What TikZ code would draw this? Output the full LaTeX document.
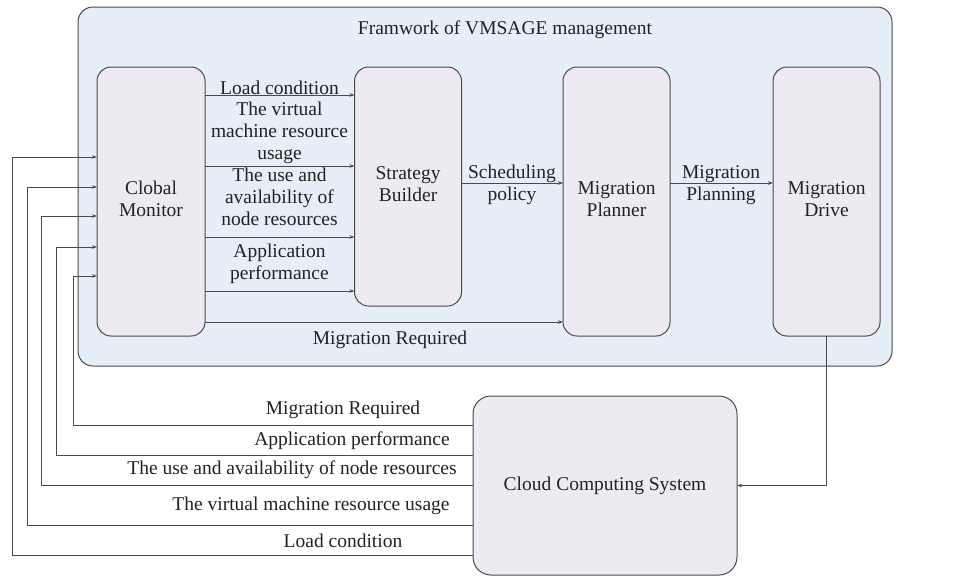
\documentclass[tikz,border=0pt]{standalone}
\usepackage{fontspec}
\setmainfont{Liberation Serif}[Ligatures=NoCommon]
\usetikzlibrary{arrows.meta}
\definecolor{linec}{HTML}{4A4A4A}
\definecolor{framefill}{HTML}{E6EEF7}
\definecolor{boxfill}{HTML}{EEEAF1}
\definecolor{textc}{HTML}{222222}
\newcommand{\mlines}[1]{\begin{tabular}{@{}c@{}}#1\end{tabular}}
\begin{document}
\begin{tikzpicture}[x=1pt,y=-1pt,
  framebox/.style={draw=linec, fill=framefill, rounded corners=15pt, line width=1pt, inner sep=0pt, outer sep=0pt},
  box/.style={draw=linec, fill=boxfill, rounded corners=14pt, line width=1pt, inner sep=0pt, outer sep=0pt, text=textc, font=\fontsize{19.5}{22}\selectfont},
  conn/.style={draw=linec, line width=0.8pt, -{Stealth[length=5pt,width=3.5pt]}},
  lbl/.style={font=\fontsize{19.5}{22}\selectfont, inner sep=0pt, text=textc},
]
\useasboundingbox (0,0) rectangle (976,576);
\node[framebox, minimum width=814pt, minimum height=359pt] (frame) at (485,186.5) {};
\node[lbl] (title) at (505,30) {Framwork of VMSAGE management};

\node[box, minimum width=108pt, minimum height=269pt] (GM) at (151,201.5) {\mlines{Clobal\\Monitor}};
\node[box, minimum width=107pt, minimum height=239pt] (SB) at (408,186.5) {\mlines{Strategy\\Builder}};
\node[box, minimum width=107pt, minimum height=269pt] (MP) at (616.5,201.5) {\mlines{Migration\\Planner}};
\node[box, minimum width=107pt, minimum height=269pt] (MD) at (826.5,201.5) {\mlines{Migration\\Drive}};
\node[box, rounded corners=18pt, minimum width=264pt, minimum height=179pt] (CCS) at (605,485.5) {Cloud Computing System};

% GM -> SB
\draw[conn] (GM.east |- 0,95) -- (SB.west |- 0,95);
\draw[conn] (GM.east |- 0,166) -- (SB.west |- 0,166);
\draw[conn] (GM.east |- 0,237) -- (SB.west |- 0,237);
\draw[conn] (GM.east |- 0,291) -- (SB.west |- 0,291);
\node[lbl] (l1) at (279.5,88) {Load condition};
\node[lbl] (l2) at (279.5,133) {\mlines{The virtual\\machine resource\\usage}};
\node[lbl] (l3) at (279.5,199) {\mlines{The use and\\availability of\\node resources}};
\node[lbl] (l4) at (279.5,264) {\mlines{Application\\performance}};

% GM -> MP
\draw[conn] (GM.east |- 0,322) -- (MP.west |- 0,322);
\node[lbl] (l5) at (390,340) {Migration Required};

% SB -> MP, MP -> MD
\draw[conn] (SB.east |- 0,183) -- (MP.west |- 0,183);
\node[lbl] (l6) at (512,185) {\mlines{Scheduling\\policy}};
\draw[conn] (MP.east |- 0,183) -- (MD.west |- 0,183);
\node[lbl] (l7) at (721,185) {\mlines{Migration\\Planning}};

% MD -> CCS
\draw[conn] (MD.south) |- (CCS.east);

% CCS -> GM feedback
\draw[conn] (CCS.west |- 0,425) -- (73,425) -- (73,276) -- (GM.west |- 0,276);
\draw[conn] (CCS.west |- 0,455) -- (56,455) -- (56,247) -- (GM.west |- 0,247);
\draw[conn] (CCS.west |- 0,485) -- (41,485) -- (41,216) -- (GM.west |- 0,216);
\draw[conn] (CCS.west |- 0,525) -- (27,525) -- (27,187) -- (GM.west |- 0,187);
\draw[conn] (CCS.west |- 0,555) -- (12,555) -- (12,157) -- (GM.west |- 0,157);
\node[lbl] (b1) at (343,410) {Migration Required};
\node[lbl] (b2) at (352,441) {Application performance};
\node[lbl] (b3) at (292,470) {The use and availability of node resources};
\node[lbl] (b4) at (311,506) {The virtual machine resource usage};
\node[lbl] (b5) at (343,541) {Load condition};
\end{tikzpicture}
\end{document}
